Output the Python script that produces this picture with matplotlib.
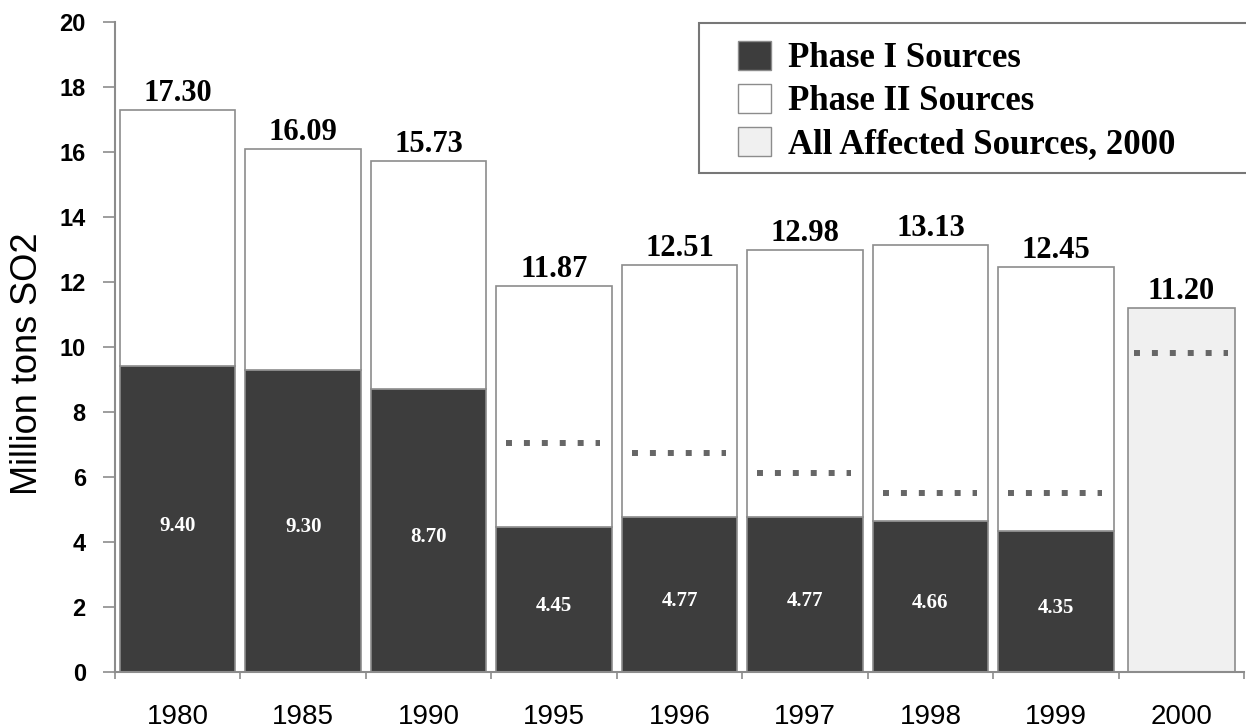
import matplotlib
matplotlib.use("Agg")
import matplotlib.pyplot as plt
from matplotlib.patches import Patch, Rectangle
import numpy as np

# data
years = ["1980", "1985", "1990", "1995", "1996", "1997", "1998", "1999", "2000"]
phase1 = [9.40, 9.30, 8.70, 4.45, 4.77, 4.77, 4.66, 4.35]
totals = [17.30, 16.09, 15.73, 11.87, 12.51, 12.98, 13.13, 12.45]
all_sources_2000 = 11.20
cap_years = ["1995", "1996", "1997", "1998", "1999", "2000"]
cap_values = [7.04, 6.73, 6.11, 5.51, 5.51, 9.81]

DARK = "#3d3d3d"
EDGE = "#8c8c8c"
LIGHT = "#f0f0f0"
SERIF = "Liberation Serif"
SANS = "Liberation Sans"

fig = plt.figure(figsize=(12.46, 7.28), dpi=100)
ax = fig.add_axes([115 / 1246, 56 / 728, 1129 / 1246, 650 / 728])

x = np.arange(len(years))
n = len(phase1)
phase2 = np.array(totals) - np.array(phase1)

ax.bar(x[:n], phase1, width=0.92, color=DARK, edgecolor=EDGE, linewidth=1.2)
ax.bar(x[:n], phase2, bottom=phase1, width=0.92, color="white", edgecolor=EDGE, linewidth=1.2)
ax.bar(x[n], all_sources_2000, width=0.85, color=LIGHT, edgecolor=EDGE, linewidth=1.2)

# value labels
for xi, tot in zip(x[:n], totals):
    ax.text(xi, tot + 0.06, f"{tot:.2f}", ha="center", va="bottom",
            fontsize=22, fontweight="bold", family=SERIF)
ax.text(x[n], all_sources_2000 + 0.06, f"{all_sources_2000:.2f}", ha="center", va="bottom",
        fontsize=22, fontweight="bold", family=SERIF)
for xi, p in zip(x[:n], phase1):
    ax.text(xi, p * 0.5 - 0.2, f"{p:.2f}", ha="center", va="center",
            fontsize=15, fontweight="bold", family=SERIF, color="white")

# dotted cap lines
for yr, cap in zip(cap_years, cap_values):
    c = years.index(yr)
    ax.plot([c - 0.38, c + 0.37], [cap, cap], color="#666666", linewidth=4.3,
            linestyle=(0, (1, 2)), solid_capstyle="butt", dash_capstyle="butt")

ax.set_xlim(-0.5, len(years) - 0.5)
ax.set_ylim(0, 20)
ax.set_yticks(range(0, 21, 2))
ax.set_yticklabels([str(v) for v in range(0, 21, 2)], fontsize=17, fontweight="bold", family=SANS)
ax.set_xticks(x)
ax.set_xticklabels(years, fontsize=20, family=SANS)
ax.set_xticks(np.arange(-0.5, len(years), 1.0), minor=True)
ax.tick_params(axis="x", which="major", length=0, pad=23)
ax.tick_params(axis="x", which="minor", length=5, color=EDGE, width=1.2)
ax.tick_params(axis="y", length=9, color=EDGE, width=1.2, pad=12)

for side in ["top", "right"]:
    ax.spines[side].set_visible(False)
for side in ["left", "bottom"]:
    ax.spines[side].set_color(EDGE)
    ax.spines[side].set_linewidth(1.5)

ax.set_ylabel("Million tons SO2", fontsize=26, family=SANS)
ax.yaxis.set_label_coords(-0.062, 0.474)

# legend with a separate frame running off the right edge
fig.patches.append(Rectangle((699 / 1246, 1 - 173 / 728), 0.6, 150 / 728,
                             transform=fig.transFigure, facecolor="white",
                             edgecolor="#777777", linewidth=1.5, zorder=5))
handles = [
    Patch(facecolor=DARK, edgecolor=EDGE, label="Phase I Sources"),
    Patch(facecolor="white", edgecolor=EDGE, label="Phase II Sources"),
    Patch(facecolor=LIGHT, edgecolor=EDGE, label="All Affected Sources, 2000"),
]
leg = fig.legend(handles=handles, loc="upper left",
                 bbox_to_anchor=(738 / 1246, 1 - 41 / 728),
                 prop={"family": SERIF, "weight": "bold", "size": 25},
                 frameon=False, handlelength=0.95, handleheight=0.9, handletextpad=0.5,
                 labelspacing=0.25, borderpad=0, borderaxespad=0)
leg.set_zorder(6)

fig.savefig("out.png", dpi=100)
